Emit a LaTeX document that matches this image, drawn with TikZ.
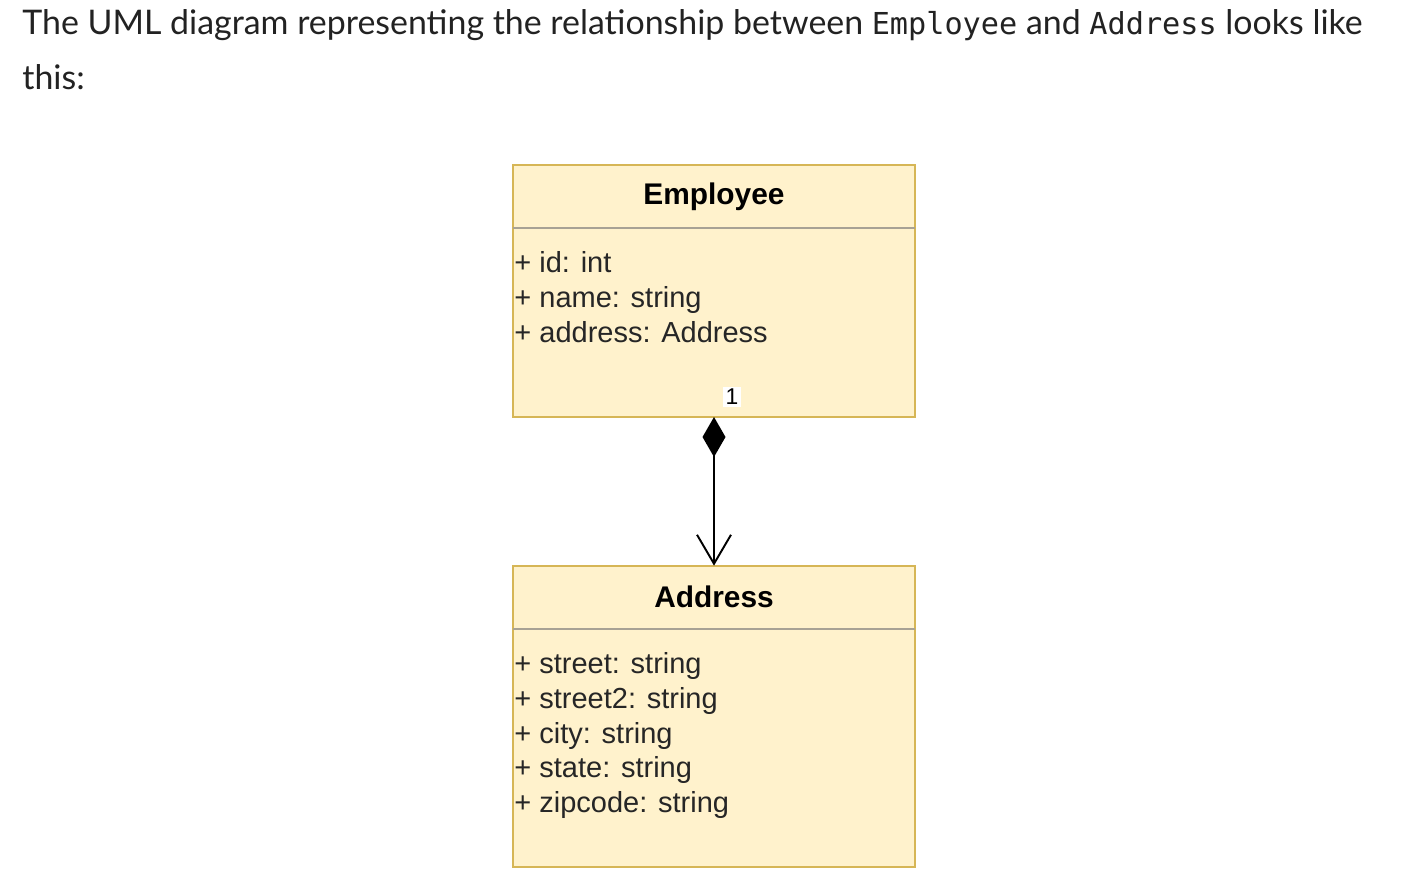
\documentclass[tikz,border=0pt]{standalone}
\usepackage{fontspec}
\setmainfont{Liberation Sans}
\newfontfamily\proseFont{Lato}
\newfontfamily\codeFont{DejaVu Sans Mono}
\usetikzlibrary{arrows.meta,positioning}

\definecolor{umlfill}{HTML}{FFF2CC}
\definecolor{umlborder}{HTML}{D6B656}
\definecolor{umlsep}{HTML}{A8A294}
\definecolor{prose}{HTML}{222222}

\begin{document}
\begin{tikzpicture}[x=0.02cm, y=-0.02cm, font=\fontsize{16.5}{19.8}\selectfont,
  hdr/.style={fill=umlfill, minimum width=8.04cm, minimum height=1.26cm, inner sep=0pt, font=\fontsize{17}{20}\selectfont\bfseries},
  bodybox/.style={fill=umlfill, minimum width=8.04cm, inner sep=0pt},
  attr/.style={align=left, inner sep=0pt, anchor=north west, text=black!85},
  frame/.style={draw=umlborder, line width=1.2pt},
  sep/.style={draw=umlsep, line width=1pt},
  prosetext/.style={anchor=west, inner sep=0pt, text=prose, font=\proseFont\fontsize{19.3}{28}\selectfont},
  comp/.style={line width=1.1pt, {Diamond[length=0.8cm, width=0.46cm]}-{Straight Barb[length=0.58cm, width=0.68cm, line width=1.1pt]}}]
  \useasboundingbox (0,0) rectangle (1408,892);
  % intro text
  \node[prosetext] (intro1) at (22,25)
    {The UML diagram representing the relationship between {\codeFont\fontsize{17.2}{28}\selectfont Employee} and {\codeFont\fontsize{17.2}{28}\selectfont Address} looks like};
  \node[prosetext] (intro2) at (22,77) {this:};
  % Employee class
  \node[hdr] (emp) at (714,196.5) {Employee};
  \node[bodybox, minimum height=3.76cm, below=0pt of emp] (empbody) {};
  \draw[frame] (emp.north west) rectangle (empbody.south east);
  \draw[sep] (emp.south west) -- (emp.south east);
  \node[attr] (empattr) at ([xshift=0.8pt,yshift=-13pt]empbody.north west)
    {+ id: int\\+ name: string\\+ address: Address};
  % Address class
  \node[hdr] (addr) at (714,597.5) {\raisebox{1.5pt}{Address}};
  \node[bodybox, minimum height=4.74cm, below=0pt of addr] (addrbody) {};
  \draw[frame] (addr.north west) rectangle (addrbody.south east);
  \draw[sep] (addr.south west) -- (addr.south east);
  \node[attr] (addrattr) at ([xshift=0.8pt,yshift=-13pt]addrbody.north west)
    {+ street: string\\+ street2: string\\+ city: string\\+ state: string\\+ zipcode: string};
  % composition
  \draw[comp] (empbody.south) -- (addr.north);
  \node[fill=white, inner sep=1.5pt, font=\rmfamily\fontsize{13}{14}\selectfont] (mult) at (732,397) {1};
\end{tikzpicture}
\end{document}
